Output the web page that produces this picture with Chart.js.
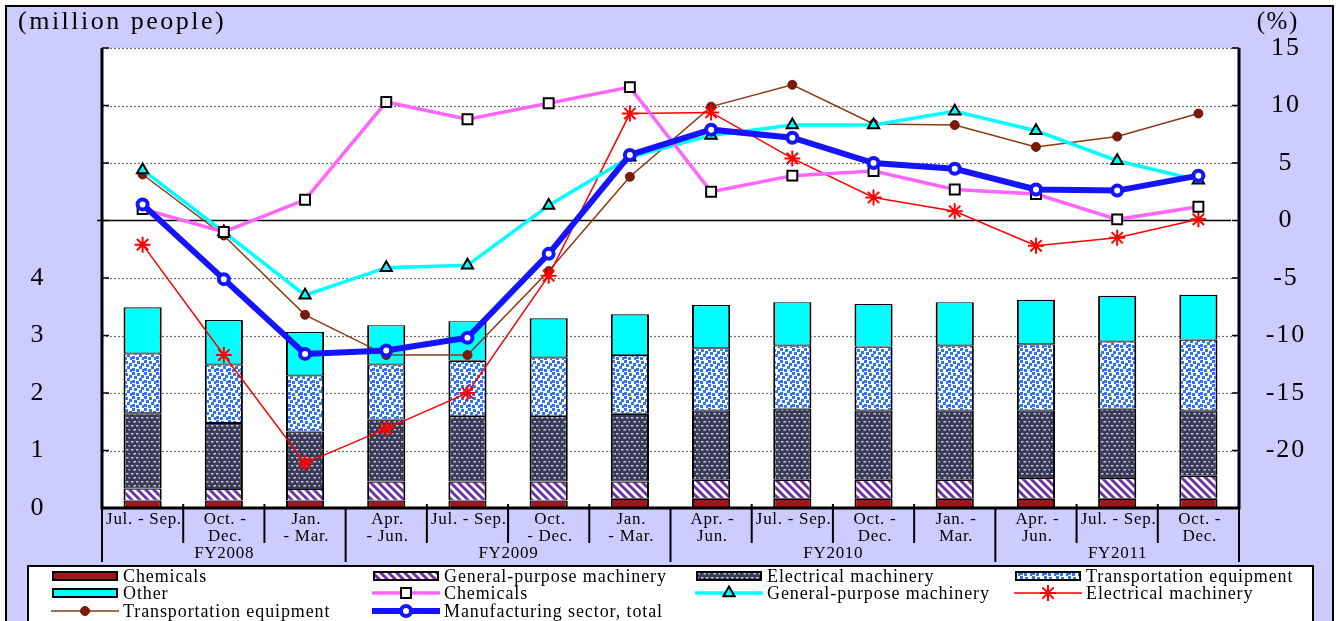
<!DOCTYPE html>
<html>
<head>
<meta charset="utf-8">
<script src="https://cdn.jsdelivr.net/npm/chart.js"></script>
<style>
  html, body { margin: 0; padding: 0; background: #fff; overflow: hidden; }
  canvas { display: block; }
</style>
</head>
<body>
<canvas id="chart" width="1336" height="621"></canvas>
<script>
// categorías (trimestres) y años fiscales
const quarters = [
  ['Jul. - Sep.'], ['Oct. -', 'Dec.'], ['Jan.', '- Mar.'],
  ['Apr.', '- Jun.'], ['Jul. - Sep.'], ['Oct.', '- Dec.'], ['Jan.', '- Mar.'],
  ['Apr. -', 'Jun.'], ['Jul. - Sep.'], ['Oct. -', 'Dec.'], ['Jan. -', 'Mar.'],
  ['Apr. -', 'Jun.'], ['Jul. - Sep.'], ['Oct. -', 'Dec.']
];
const fiscalYears = ['FY2008', 'FY2009', 'FY2010', 'FY2011'];
const fiscalSpans = [3, 4, 4, 3];

// barras apiladas (millones de personas)
const chemBar  = [0.13, 0.13, 0.13, 0.13, 0.13, 0.13, 0.16, 0.16, 0.16, 0.16, 0.16, 0.16, 0.16, 0.16];
const gpBar    = [0.21, 0.20, 0.20, 0.33, 0.33, 0.33, 0.30, 0.33, 0.33, 0.33, 0.33, 0.36, 0.36, 0.40];
const elecBar  = [1.31, 1.15, 1.00, 1.08, 1.14, 1.14, 1.18, 1.21, 1.24, 1.21, 1.21, 1.18, 1.21, 1.14];
const transBar = [1.04, 1.02, 0.98, 0.96, 0.96, 1.02, 1.02, 1.08, 1.10, 1.11, 1.13, 1.15, 1.17, 1.23];
const otherBar = [0.80, 0.77, 0.75, 0.68, 0.69, 0.68, 0.71, 0.75, 0.75, 0.74, 0.75, 0.77, 0.79, 0.78];

// líneas (variación %, eje derecho)
const chemLine  = [1.0, -1.0, 1.8, 10.3, 8.8, 10.2, 11.6, 2.5, 3.9, 4.3, 2.7, 2.3, 0.1, 1.2];
const gpLine    = [4.4, -1.0, -6.5, -4.1, -3.9, 1.3, 5.5, 7.4, 8.3, 8.3, 9.5, 7.8, 5.2, 3.5];
const elecLine  = [-2.1, -11.7, -21.1, -18.1, -15.0, -4.8, 9.3, 9.4, 5.4, 2.0, 0.8, -2.2, -1.5, 0.1];
const transLine = [4.0, -1.3, -8.2, -11.7, -11.7, -4.4, 3.8, 9.9, 11.8, 8.4, 8.3, 6.4, 7.3, 9.3];
const totalLine = [1.4, -5.1, -11.6, -11.3, -10.2, -2.9, 5.7, 7.9, 7.2, 5.0, 4.5, 2.7, 2.6, 3.9];

// etiquetas de los ejes
const leftTicks = [0, 1, 2, 3, 4];
const rightTicks = [-20, -15, -10, -5, 0, 5, 10, 15];

const SERIF = "'Liberation Serif', 'Times New Roman', serif";
const LAVENDER = '#CCCCFF';

// Patrones de relleno
function makePattern(w, h, draw) {
    const c = document.createElement('canvas');
    c.width = w; c.height = h;
    const g = c.getContext('2d');
    draw(g);
    return g.createPattern(c, 'repeat');
}
const ctx = document.getElementById('chart').getContext('2d');

const stripePattern = makePattern(8, 8, g => {
    g.fillStyle = '#fff'; g.fillRect(0, 0, 8, 8);
    g.strokeStyle = '#7030A0'; g.lineWidth = 3;
    for (const k of [-8, 0, 8]) {
        g.beginPath(); g.moveTo(k - 1, -1); g.lineTo(k + 9, 9); g.stroke();
    }
});
const dotPattern = makePattern(10, 8, g => {
    g.fillStyle = '#383B58'; g.fillRect(0, 0, 10, 8);
    g.fillStyle = '#C9CBDA';
    [[1, 1], [6, 1], [3.5, 5], [8.5, 5]].forEach(p => g.fillRect(p[0], p[1], 2.5, 1.5));
});
const squarePattern = makePattern(12, 12, g => {
    g.fillStyle = '#fff'; g.fillRect(0, 0, 12, 12);
    g.fillStyle = '#2F74F2';
    [[0, 0], [5, 1], [9, 3], [2, 4], [7, 6], [0, 8], [4, 9], [10, 9]].forEach(p => g.fillRect(p[0], p[1], 3, 3));
});

function barSet(label, data, fill) {
    return {
        type: 'bar', label: label, data: data, yAxisID: 'y', stack: 'emp', order: 5,
        backgroundColor: fill, borderColor: '#000',
        borderWidth: { left: 2, right: 2, top: 1.2, bottom: 0.8 }, borderSkipped: false,
        barPercentage: 0.47, categoryPercentage: 1
    };
}
function lineSet(label, data, o) {
    return Object.assign({
        type: 'line', label: label, data: data, yAxisID: 'y2', order: 1,
        fill: false, tension: 0
    }, o);
}

const datasets = [
    barSet('Chemicals', chemBar, '#A0161C'),
    barSet('General-purpose machinery', gpBar, stripePattern),
    barSet('Electrical machinery', elecBar, dotPattern),
    barSet('Transportation equipment', transBar, squarePattern),
    barSet('Other', otherBar, '#00FFFF'),
    lineSet('Chemicals', chemLine, {
        borderColor: '#FF66FF', borderWidth: 3.5, pointStyle: 'rect', pointRadius: 7,
        pointBackgroundColor: '#fff', pointBorderColor: '#000', pointBorderWidth: 2
    }),
    lineSet('General-purpose machinery', gpLine, {
        borderColor: '#00FFFF', borderWidth: 3.5, pointStyle: 'triangle', pointRadius: 6.5,
        pointBackgroundColor: '#00FFFF', pointBorderColor: '#000', pointBorderWidth: 2
    }),
    lineSet('Electrical machinery', elecLine, {
        borderColor: '#FF0000', borderWidth: 1.5, pointStyle: 'star', pointRadius: 8,
        pointBackgroundColor: '#FF0000', pointBorderColor: '#FF0000', pointBorderWidth: 2
    }),
    lineSet('Transportation equipment', transLine, {
        borderColor: '#8A3A14', borderWidth: 1.5, pointStyle: 'circle', pointRadius: 4.5,
        pointBackgroundColor: '#7A1A0A', pointBorderColor: '#7A1A0A', pointBorderWidth: 1
    }),
    lineSet('Manufacturing sector, total', totalLine, {
        order: 0, borderColor: '#1414FF', borderWidth: 6, pointStyle: 'circle', pointRadius: 5,
        pointBackgroundColor: '#fff', pointBorderColor: '#1414FF', pointBorderWidth: 4
    })
];

// Dibuja un texto con espaciado entre letras
function text(c, str, x, y, size, spacing, align) {
    c.save();
    c.font = size + 'px ' + SERIF;
    c.fillStyle = '#000';
    c.textBaseline = 'middle';
    c.letterSpacing = spacing + 'px';
    let w = c.measureText(str).width;
    let sx = x;
    if (align === 'center') sx = x - (w - spacing) / 2;
    else if (align === 'right') sx = x - (w - spacing);
    c.textAlign = 'left';
    c.fillText(str, sx, y);
    c.restore();
}

function marker(c, style, x, y, r, fill, stroke, bw) {
    c.save();
    c.fillStyle = fill; c.strokeStyle = stroke; c.lineWidth = bw;
    c.beginPath();
    if (style === 'rect') {
        const s = r * Math.SQRT1_2;
        c.rect(x - s, y - s, 2 * s, 2 * s);
        c.fill(); c.stroke();
    } else if (style === 'triangle') {
        for (let i = 0; i < 3; i++) {
            const a = i * 2 * Math.PI / 3;
            const px = x + Math.sin(a) * r, py = y - Math.cos(a) * r;
            i ? c.lineTo(px, py) : c.moveTo(px, py);
        }
        c.closePath(); c.fill(); c.stroke();
    } else if (style === 'star') {
        for (let i = 0; i < 4; i++) {
            const a = i * Math.PI / 4;
            c.moveTo(x + Math.cos(a) * r, y + Math.sin(a) * r);
            c.lineTo(x - Math.cos(a) * r, y - Math.sin(a) * r);
        }
        c.stroke();
    } else {
        c.arc(x, y, r, 0, Math.PI * 2);
        c.fill(); c.stroke();
    }
    c.restore();
}

// Fondo, cuadrícula, ejes, etiquetas y leyenda
const decorPlugin = {
    id: 'decor',
    beforeDraw(chart) {
        const c = chart.ctx, a = chart.chartArea;
        c.save();
        c.fillStyle = '#fff';
        c.fillRect(0, 0, chart.width, chart.height);
        c.fillStyle = LAVENDER;
        c.fillRect(6, 6, 1327, chart.height);
        c.strokeStyle = '#000'; c.lineWidth = 2;
        c.beginPath();
        c.moveTo(6, chart.height); c.lineTo(6, 6); c.lineTo(1333, 6); c.lineTo(1333, chart.height);
        c.stroke();
        c.fillStyle = '#fff';
        c.fillRect(a.left, a.top, a.right - a.left, a.bottom - a.top);
        c.restore();
    },
    beforeDatasetsDraw(chart) {
        const c = chart.ctx, a = chart.chartArea, y2 = chart.scales.y2;
        c.save();
        y2.ticks.forEach(t => {
            const py = Math.round(y2.getPixelForValue(t.value)) + 0.5;
            if (t.value === y2.min || t.value === 0) return;
            c.strokeStyle = '#6E6E6E'; c.lineWidth = 1.2; c.setLineDash([2, 2]);
            c.beginPath(); c.moveTo(a.left, py); c.lineTo(a.right, py); c.stroke();
        });
        c.setLineDash([]);
        const z = y2.getPixelForValue(0);
        c.strokeStyle = '#000'; c.lineWidth = 1.5;
        c.beginPath(); c.moveTo(a.left - 5, z); c.lineTo(a.right - 8, z); c.stroke();
        c.restore();
    },
    afterDatasetsDraw(chart) {
        const c = chart.ctx, a = chart.chartArea;
        const x = chart.scales.x, y = chart.scales.y, y2 = chart.scales.y2;
        c.save();
        c.strokeStyle = '#000';
        // ejes
        c.lineWidth = 3;
        c.beginPath();
        c.moveTo(a.left, a.top); c.lineTo(a.left, a.bottom); c.lineTo(a.right, a.bottom); c.lineTo(a.right, a.top);
        c.stroke();
        // marcas hacia dentro
        c.lineWidth = 1.5;
        y2.ticks.forEach(t => {
            const py = y2.getPixelForValue(t.value);
            c.beginPath();
            c.moveTo(a.left, py); c.lineTo(a.left + 7, py);
            c.moveTo(a.right - 7, py); c.lineTo(a.right, py);
            c.stroke();
        });
        // separadores de trimestres y años fiscales
        const step = x.getPixelForValue(1) - x.getPixelForValue(0);
        const fyEdges = [0];
        fiscalSpans.forEach(s => fyEdges.push(fyEdges[fyEdges.length - 1] + s));
        c.lineWidth = 2;
        for (let i = 0; i <= quarters.length; i++) {
            const px = x.getPixelForValue(0) - step / 2 + i * step;
            const longLine = fyEdges.includes(i);
            c.beginPath();
            c.moveTo(px, a.bottom - (longLine ? 0 : 4));
            c.lineTo(px, a.bottom + (longLine ? 54 : 35));
            c.stroke();
        }
        c.restore();

        // etiquetas del eje x
        quarters.forEach((lines, i) => {
            const px = x.getPixelForValue(i);
            lines.forEach((ln, k) => text(c, ln, px + 1, a.bottom + 12 + k * 17, 17, 0.7, 'center'));
        });
        fiscalYears.forEach((fy, i) => {
            const p0 = x.getPixelForValue(fyEdges[i]) - step / 2;
            const p1 = x.getPixelForValue(fyEdges[i + 1] - 1) + step / 2;
            text(c, fy, (p0 + p1) / 2, a.bottom + 46, 17, 0.7, 'center');
        });

        // etiquetas de los ejes y
        leftTicks.forEach(v => text(c, String(v), 37, y.getPixelForValue(v), 26, 2, 'center'));
        rightTicks.forEach(v => text(c, String(v), 1285, y2.getPixelForValue(v), 26, 2, 'center'));
        text(c, '(million people)', 18, 22, 26, 2.5, 'left');
        text(c, '(%)', 1277, 22, 25, 1.5, 'center');

        // leyenda
        c.save();
        c.fillStyle = '#fff';
        c.fillRect(28, 566, 1285, 70);
        c.strokeStyle = '#000'; c.lineWidth = 2;
        c.strokeRect(28, 566, 1285, 70);
        c.restore();
        const cols = [53, 374, 697, 1016];
        const rows = [576, 593, 611];
        chart.data.datasets.forEach((ds, i) => {
            const sx = cols[i % 4], sy = rows[Math.floor(i / 4)];
            c.save();
            if (ds.type === 'bar') {
                c.fillStyle = ds.backgroundColor;
                c.fillRect(sx, sy - 4, 64, 8);
                c.strokeStyle = '#000'; c.lineWidth = 2;
                c.strokeRect(sx, sy - 4, 64, 8);
            } else {
                c.strokeStyle = ds.borderColor; c.lineWidth = ds.borderWidth;
                c.beginPath(); c.moveTo(sx - 2, sy); c.lineTo(sx + 66, sy); c.stroke();
                marker(c, ds.pointStyle, sx + 32, sy, ds.pointRadius, ds.pointBackgroundColor,
                       ds.pointBorderColor, ds.pointBorderWidth);
            }
            c.restore();
            text(c, ds.label, sx + 70, sy + 1, 18, 0.9, 'left');
        });
    }
};

new Chart(ctx, {
    data: { labels: quarters.map(q => q.join(' ')), datasets: datasets },
    options: {
        responsive: false,
        animation: false,
        layout: { padding: { top: 48, left: 0, right: 0, bottom: 0 } },
        plugins: { legend: { display: false }, tooltip: { enabled: false } },
        scales: {
            x: {
                type: 'category', offset: true, stacked: true,
                grid: { display: false }, border: { display: false },
                ticks: { display: false },
                afterFit: s => { s.height = 113; }
            },
            y: {
                position: 'left', min: 0, max: 8, stacked: true,
                ticks: { display: false, stepSize: 1 },
                grid: { display: false }, border: { display: false },
                afterFit: s => { s.width = 102; }
            },
            y2: {
                position: 'right', min: -25, max: 15, stacked: false,
                ticks: { display: false, stepSize: 5 },
                grid: { display: false }, border: { display: false },
                afterFit: s => { s.width = 97; }
            }
        }
    },
    plugins: [decorPlugin]
});
</script>
</body>
</html>
